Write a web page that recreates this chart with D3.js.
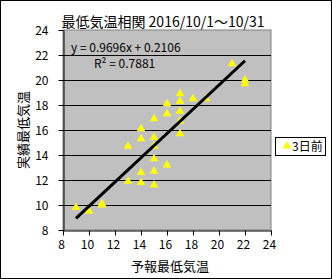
<!DOCTYPE html>
<html>
<head>
<meta charset="utf-8">
<script src="https://cdn.jsdelivr.net/npm/d3@7"></script>
<style>
  body { margin: 0; background: #fff; }
  text { font-family: "Noto Sans CJK JP", sans-serif; fill: #000; }
</style>
</head>
<body>
<script>
// forecast vs actual minimum temperature, 3 days ahead
var forecast = [9, 10, 11, 11, 13, 13, 14, 14, 14, 14, 15, 15, 15, 15, 15, 15,
                16, 16, 16, 17, 17, 17, 17, 17, 18, 19, 21, 22, 22];
var actual = [9.8, 9.5, 10.0, 10.1, 11.9, 14.7, 11.8, 12.6, 15.3, 16.1, 11.6, 12.7, 13.7, 14.7, 15.4, 16.9,
              13.2, 17.3, 18.1, 15.7, 16.7, 17.5, 18.3, 18.9, 18.5, 18.5, 21.3, 20.0, 19.7];
var xTicks = [8, 10, 12, 14, 16, 18, 20, 22, 24];
var yTicks = [8, 10, 12, 14, 16, 18, 20, 22, 24];
var slope = 0.9696, intercept = 0.2106, r2 = 0.7881;

var width = 332, height = 279;

var svg = d3.select("body").append("svg")
    .attr("width", width)
    .attr("height", height);

//outer frame
svg.append("rect")
    .attr("x", 0.5).attr("y", 0.5)
    .attr("width", width - 1).attr("height", height - 1)
    .attr("fill", "#fff").attr("stroke", "#000");

var x = d3.scaleLinear().domain([8, 24]).range([63, 271]);
var y = d3.scaleLinear().domain([8, 24]).range([230, 30]);

//plot area
svg.append("rect")
    .attr("x", x(8)).attr("y", y(24))
    .attr("width", x(24) - x(8)).attr("height", y(8) - y(24))
    .attr("fill", "#c0c0c0").attr("stroke", "#808080");

//gridlines
svg.selectAll(".grid")
    .data(yTicks.filter(function(d){ return d > 8 && d < 24; }))
    .enter().append("line")
    .attr("x1", x(8)).attr("x2", x(24))
    .attr("y1", function(d){ return y(d) + 0.5; })
    .attr("y2", function(d){ return y(d) + 0.5; })
    .attr("stroke", "#000");

//axes
var xAxis = svg.append("g")
    .attr("transform", "translate(0," + (y(8) + 0.5) + ")")
    .call(d3.axisBottom(x).tickValues(xTicks).tickSize(5).tickSizeOuter(0));
var yAxis = svg.append("g")
    .attr("transform", "translate(" + (x(8) + 0.5) + ",0)")
    .call(d3.axisLeft(y).tickValues(yTicks).tickSize(5).tickSizeOuter(0));

[xAxis, yAxis].forEach(function(g){
    g.selectAll("path, line").attr("stroke", "#000");
    g.selectAll("text").style("font-size", "12px").attr("fill", "#000");
});
xAxis.selectAll("text").attr("dy", "0").attr("y", 18).attr("dx", -2);
yAxis.selectAll("text").attr("x", -15).attr("dy", "0.36em");

//points
svg.selectAll(".pt")
    .data(forecast)
    .enter().append("path")
    .attr("d", d3.symbol().type(d3.symbolTriangle).size(32))
    .attr("transform", function(d, i){
        return "translate(" + x(d) + "," + y(actual[i]) + ")";
    })
    .attr("fill", "#ffff00");

//trend line
var xMin = d3.min(forecast), xMax = d3.max(forecast);
svg.append("line")
    .attr("x1", x(xMin)).attr("y1", y(slope * xMin + intercept))
    .attr("x2", x(xMax)).attr("y2", y(slope * xMax + intercept))
    .attr("stroke", "#000").attr("stroke-width", 3);

//equation labels
svg.append("text")
    .attr("x", 71).attr("y", 52)
    .style("font-size", "12px")
    .text("y = " + slope + "x + " + intercept);
svg.append("text")
    .attr("x", 94).attr("y", 68)
    .style("font-size", "12px")
    .text("R² = " + r2);

//title
svg.append("text")
    .attr("x", 163).attr("y", 27)
    .attr("text-anchor", "middle")
    .style("font-size", "14px")
    .text("最低気温相関  2016/10/1～10/31");

//axis titles
svg.append("text")
    .attr("x", 170).attr("y", 271)
    .attr("text-anchor", "middle")
    .style("font-size", "13px")
    .text("予報最低気温");
svg.append("text")
    .attr("transform", "translate(28,130) rotate(-90)")
    .attr("text-anchor", "middle")
    .style("font-size", "13px")
    .text("実績最低気温");

//legend
var legend = svg.append("g").attr("transform", "translate(275,137)");
legend.append("rect")
    .attr("x", 0.5).attr("y", 0.5)
    .attr("width", 50).attr("height", 18)
    .attr("fill", "#fff").attr("stroke", "#000");
legend.append("path")
    .attr("d", d3.symbol().type(d3.symbolTriangle).size(32))
    .attr("transform", "translate(12,9)")
    .attr("fill", "#ffff00");
legend.append("text")
    .attr("x", 17).attr("y", 14)
    .style("font-size", "12px")
    .text("3日前");
</script>
</body>
</html>
